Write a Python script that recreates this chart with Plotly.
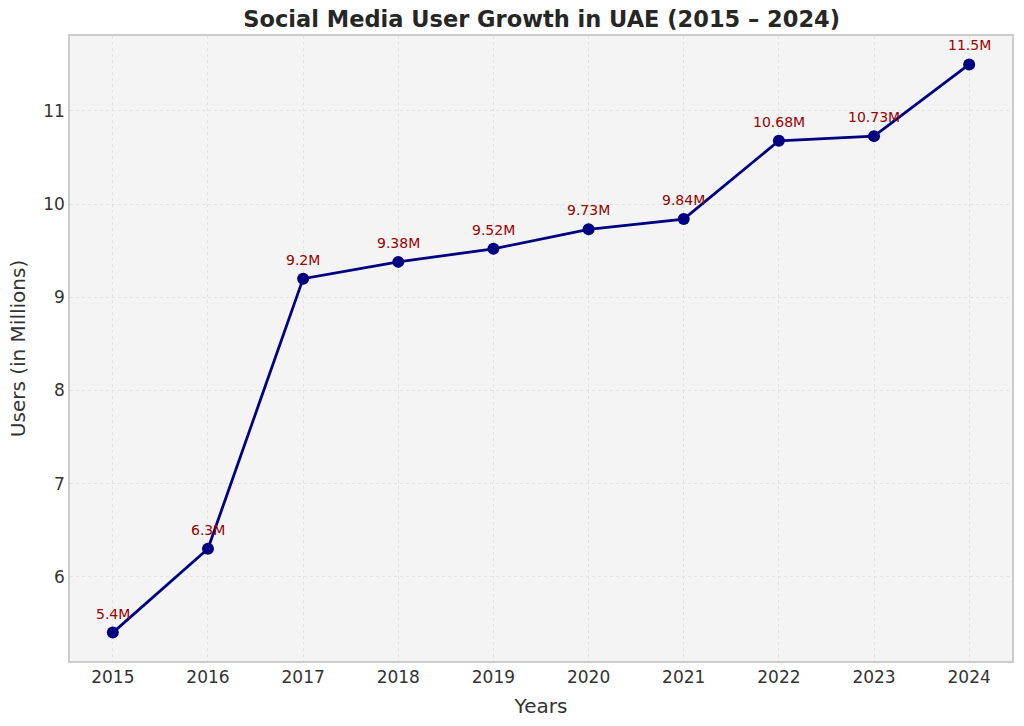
import plotly.graph_objects as go

years = [2015, 2016, 2017, 2018, 2019, 2020, 2021, 2022, 2023, 2024]
users = [5.4, 6.3, 9.2, 9.38, 9.52, 9.73, 9.84, 10.68, 10.73, 11.5]
labels = ["5.4M", "6.3M", "9.2M", "9.38M", "9.52M", "9.73M", "9.84M", "10.68M", "10.73M", "11.5M"]

fig = go.Figure()
fig.add_trace(go.Scatter(
    x=years, y=users, mode="lines+markers",
    line=dict(color="#000080", width=2.8),
    marker=dict(color="#000080", size=12),
    hoverinfo="x+y", showlegend=False,
))
for x, y, t in zip(years, users, labels):
    fig.add_annotation(x=x, y=y, text=t, showarrow=False, yshift=19,
                       font=dict(family="DejaVu Sans", size=14, color="#990000"))

axis_common = dict(
    showgrid=True, gridcolor="#e2e2e2", griddash="dot", gridwidth=1,
    showline=True, linecolor="#cccccc", linewidth=1.5, mirror=True,
    zeroline=False, ticks="", tickfont=dict(family="DejaVu Sans", size=17, color="#333333"),
)
fig.update_xaxes(range=[2014.55, 2024.45], tickmode="array", tickvals=years,
                 ticktext=[str(y) for y in years],
                 title=dict(text="Years", font=dict(family="DejaVu Sans", size=20, color="#333333"), standoff=13),
                 **axis_common)
fig.update_yaxes(range=[5.095, 11.805], tickmode="array", tickvals=[6, 7, 8, 9, 10, 11],
                 title=dict(text="Users (in Millions)", font=dict(family="DejaVu Sans", size=20, color="#333333"), standoff=12),
                 **axis_common)
fig.update_layout(
    width=1024, height=726,
    margin=dict(l=70, r=10, t=36, b=65),
    paper_bgcolor="white", plot_bgcolor="#f4f4f4",
    title=dict(text="<b>Social Media User Growth in UAE (2015 – 2024)</b>",
               x=0.529, xanchor="center", y=0.973, yanchor="middle",
               font=dict(family="DejaVu Sans", size=22.5, color="#262626")),
)
fig.write_html("out.html")
